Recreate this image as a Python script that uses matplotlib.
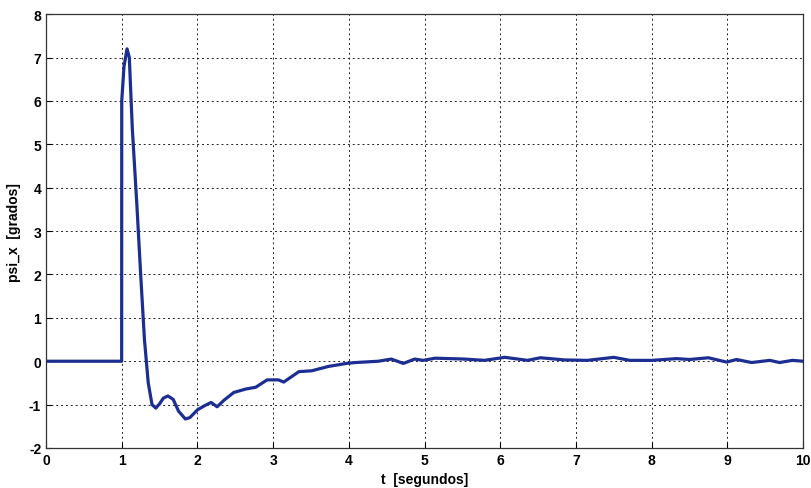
import matplotlib.pyplot as plt
import numpy as np

# time [s] and psi_x [deg]
t = [0.0, 0.999, 1.0, 1.03, 1.07, 1.10, 1.14, 1.20, 1.25, 1.30, 1.35, 1.40, 1.45,
     1.50, 1.55, 1.61, 1.68, 1.75, 1.84, 1.90, 2.00, 2.10, 2.18, 2.26, 2.35,
     2.48, 2.64, 2.77, 2.92, 3.07, 3.14, 3.34, 3.51, 3.73, 3.97, 4.09, 4.39,
     4.56, 4.72, 4.87, 4.98, 5.14, 5.53, 5.79, 6.06, 6.36, 6.53, 6.85, 7.15,
     7.50, 7.71, 8.00, 8.33, 8.50, 8.75, 8.99, 9.12, 9.32, 9.56, 9.69, 9.86, 10.0]
psi = [0.0, 0.0, 6.0, 6.8, 7.2, 7.0, 5.35, 3.6, 2.0, 0.5, -0.5, -1.0, -1.08,
       -0.98, -0.85, -0.80, -0.88, -1.15, -1.33, -1.30, -1.12, -1.02, -0.95, -1.05, -0.90,
       -0.72, -0.64, -0.60, -0.43, -0.43, -0.48, -0.24, -0.22, -0.12, -0.05, -0.03, 0.0,
       0.05, -0.05, 0.05, 0.02, 0.07, 0.05, 0.02, 0.09, 0.02, 0.08, 0.03, 0.02,
       0.09, 0.02, 0.02, 0.06, 0.04, 0.08, -0.02, 0.04, -0.03, 0.02, -0.03, 0.02, 0.0]

xticks = np.arange(0, 11, 1)
yticks = np.arange(-2, 9, 1)

plt.rcParams['font.family'] = ['Liberation Sans', 'DejaVu Sans']
plt.rcParams['axes.unicode_minus'] = False

fig = plt.figure(figsize=(8.12, 4.89), dpi=100)
ax = fig.add_axes([0.0567, 0.0818, 0.9323, 0.8872])

ax.plot(t, psi, color='#1c2e92', linewidth=2.3, solid_joinstyle='round')

ax.set_xlim(0, 10)
ax.set_ylim(-2, 8)
ax.set_xticks(xticks)
ax.set_yticks(yticks)
ax.grid(True, color='#222222', linestyle=(0, (2, 3)), linewidth=0.7)
ax.tick_params(direction='in', labelsize=10, length=4, width=0.8)
for lab in ax.get_xticklabels() + ax.get_yticklabels():
    lab.set_fontweight('bold')
for s in ax.spines.values():
    s.set_color('#333333')
    s.set_linewidth(0.9)

ax.set_xlabel('t  [segundos]', fontsize=10, fontweight='bold', labelpad=4)
ax.set_ylabel('psi_x  [grados]', fontsize=10, fontweight='bold', labelpad=6)

fig.savefig('out.png', dpi=100)
